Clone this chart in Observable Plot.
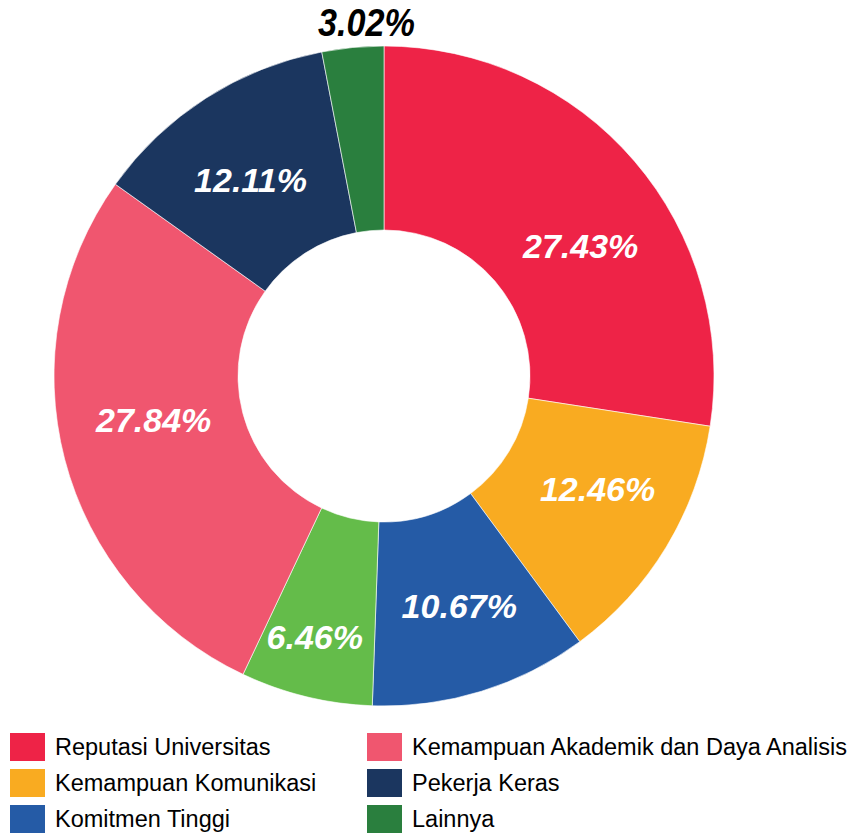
<!DOCTYPE html>
<html>
<head>
<meta charset="utf-8">
<script src="https://cdn.jsdelivr.net/npm/d3@7"></script>
<script src="https://cdn.jsdelivr.net/npm/@observablehq/plot@0.6"></script>
<style>
  html, body { margin: 0; padding: 0; background: #fff; }
  #chart { position: relative; width: 851px; }
  .legend { position: relative; width: 851px; height: 111px; font-family: "Liberation Sans", Arial, sans-serif; font-size: 23.5px; color: #000; }
  .item { position: absolute; display: flex; align-items: center; height: 28px; white-space: nowrap; }
  .sw { width: 35px; height: 28px; margin-right: 10px; flex: none; }
</style>
</head>
<body>
<div id="chart"></div>
<script>
// Data (clockwise from 12 o'clock)
const categories = [
  "Reputasi Universitas",
  "Kemampuan Komunikasi",
  "Komitmen Tinggi",
  "Kategori tanpa label",
  "Kemampuan Akademik dan Daya Analisis",
  "Pekerja Keras",
  "Lainnya"
];
const values = [27.43, 12.46, 10.67, 6.46, 27.84, 12.11, 3.02];
const colors = ["#EE2347", "#F9AB21", "#255BA6", "#64BC4A", "#F0566F", "#1B365F", "#2A7F3E"];
const labels = ["27.43%", "12.46%", "10.67%", "6.46%", "27.84%", "12.11%", "3.02%"];
// legend order as shown (row by row, two columns)
const legendOrder = [
  "Reputasi Universitas", "Kemampuan Akademik dan Daya Analisis",
  "Kemampuan Komunikasi", "Pekerja Keras",
  "Komitmen Tinggi", "Lainnya"
];

// style: small pixel nudges of the slice labels
const labelNudgeX = [16, 10, 5, -13, 0, -5, 16];
const labelNudgeY = [25, -10, 3, 30, -16, 4, 0];

const innerRatio = 146 / 330;
const data = categories.map((c, i) => ({category: c, value: values[i], label: labels[i], ndx: labelNudgeX[i], ndy: labelNudgeY[i]}));
const pie = d3.pie().value(d => d.value).sort(null)(data);
const slices = pie.map(p => ({...p.data, startAngle: p.startAngle, endAngle: p.endAngle}));

// label positions in data units (unit circle); small slice label goes outside
const labelData = slices.map(s => {
  const a = (s.startAngle + s.endAngle) / 2;
  const outside = s.value < 5;
  const r = outside ? 1.075 : (1 + innerRatio) / 2;
  return {...s, lx: r * Math.sin(a), ly: r * Math.cos(a), outside};
});

const arcsMark = (index, scales, values, dimensions, context) => {
  const cx = scales.x(0), cy = scales.y(0);
  const R = scales.x(1) - scales.x(0);
  const arc = d3.arc().outerRadius(R).innerRadius(R * innerRatio);
  const g = d3.create("svg:g").attr("transform", `translate(${cx},${cy})`);
  g.selectAll("path").data(slices).join("path")
    .attr("d", d => arc(d))
    .attr("fill", d => scales.color(d.category))
    .attr("stroke", "#fff")
    .attr("stroke-width", 0.6);
  return g.node();
};

const labelMark = (subset, opts) => (index, scales, values, dimensions, context) => {
  const g = d3.create("svg:g");
  const t = g.selectAll("text").data(subset).join("text")
    .attr("x", d => scales.x(d.lx) + d.ndx)
    .attr("y", d => scales.y(d.ly) + d.ndy)
    .attr("dy", "0.35em")
    .attr("text-anchor", "middle")
    .attr("fill", opts.fill)
    .attr("font-size", opts.fontSize)
    .attr("font-weight", "bold")
    .attr("font-style", "italic")
    .attr("font-family", opts.fontFamily)
    .text(d => d.label);
  if (opts.textLength) t.attr("textLength", opts.textLength).attr("lengthAdjust", "spacingAndGlyphs");
  return g.node();
};

const plot = Plot.plot({
  width: 851,
  height: 725,
  marginLeft: 54,
  marginRight: 137,
  marginTop: 46,
  marginBottom: 19,
  x: {domain: [-1, 1], axis: null},
  y: {domain: [-1, 1], axis: null},
  color: {domain: categories, range: colors},
  style: {background: "transparent", overflow: "visible"},
  marks: [
    arcsMark,
    labelMark(labelData.filter(d => !d.outside), {fill: "#fff", fontSize: 34, fontFamily: "Liberation Sans, Arial, sans-serif"}),
    labelMark(labelData.filter(d => d.outside), {fill: "#000", fontSize: 39, textLength: 97, fontFamily: "Liberation Sans Narrow, Arial Narrow, Liberation Sans, sans-serif"})
  ]
});
document.getElementById("chart").appendChild(plot);

// Legend (HTML below the SVG)
const legend = document.createElement("div");
legend.className = "legend";
legendOrder.forEach((c, i) => {
  const col = i % 2, row = Math.floor(i / 2);
  const it = document.createElement("div");
  it.className = "item";
  it.style.left = (col === 0 ? 10 : 367) + "px";
  it.style.top = (8 + row * 36) + "px";
  const sw = document.createElement("div");
  sw.className = "sw";
  sw.style.background = colors[categories.indexOf(c)];
  const tx = document.createElement("span");
  tx.textContent = c;
  it.appendChild(sw); it.appendChild(tx);
  legend.appendChild(it);
});
document.getElementById("chart").appendChild(legend);
</script>
</body>
</html>
